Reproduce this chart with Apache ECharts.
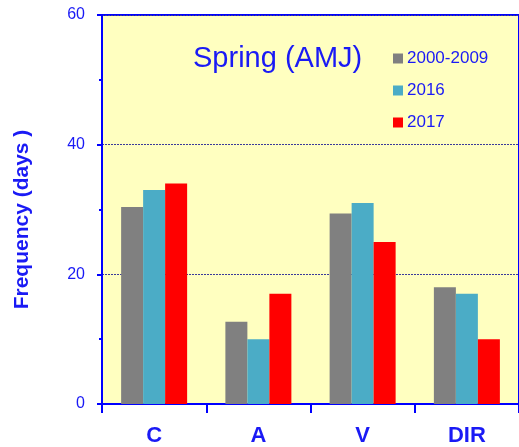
<!DOCTYPE html>
<html>
<head>
<meta charset="utf-8">
<script src="https://cdn.jsdelivr.net/npm/echarts@6/dist/echarts.min.js"></script>
<style>
  html, body { margin: 0; padding: 0; background: #ffffff; }
  #chart { width: 519px; height: 447px; }
</style>
</head>
<body>
<div id="chart"></div>
<script>
// Spring (April–June) frequency of each weather type, in days
const categories = ['C', 'A', 'V', 'DIR'];
const seriesNames = ['2000-2009', '2016', '2017'];
const decadeMean = [30.4, 12.7, 29.4, 18];
const year2016 = [33, 10, 31, 17];
const year2017 = [34, 17, 25, 10];
const yTicks = [0, 20, 40, 60];

const BLUE = '#0000ff';
const TEXT_BLUE = '#1a1af5';
const FONT = 'Liberation Sans, Arial, sans-serif';
const colors = ['#808080', '#4bacc6', '#ff0000'];
const values = [decadeMean, year2016, year2017];

const chart = echarts.init(document.getElementById('chart'), null, { renderer: 'canvas' });

chart.setOption({
  animation: false,
  backgroundColor: '#ffffff',
  title: {
    text: 'Spring (AMJ)',
    left: 193,
    top: 44,
    padding: 0,
    textStyle: {
      color: TEXT_BLUE,
      fontFamily: FONT,
      fontSize: 29,
      fontWeight: 'normal'
    }
  },
  legend: {
    orient: 'vertical',
    left: 393,
    top: 50,
    padding: 0,
    itemWidth: 10,
    itemHeight: 10,
    itemGap: 15,
    icon: 'rect',
    data: seriesNames,
    textStyle: {
      color: TEXT_BLUE,
      fontFamily: FONT,
      fontSize: 17,
      padding: [0, 0, 0, -1]
    }
  },
  grid: {
    left: 102,
    top: 15,
    bottom: 42,
    width: 424,
    show: true,
    backgroundColor: '#ffffc0',
    borderColor: BLUE,
    borderWidth: 2
  },
  xAxis: {
    type: 'category',
    data: categories,
    axisLine: { lineStyle: { color: BLUE, width: 2 } },
    axisTick: { show: true, length: 9, lineStyle: { color: BLUE, width: 2 } },
    axisLabel: {
      color: TEXT_BLUE,
      fontFamily: FONT,
      fontSize: 22,
      fontWeight: 'bold',
      margin: 21
    }
  },
  yAxis: {
    type: 'value',
    min: yTicks[0],
    max: yTicks[yTicks.length - 1],
    interval: 20,
    name: 'Frequency (days )',
    nameLocation: 'middle',
    nameGap: 69,
    nameTextStyle: {
      color: TEXT_BLUE,
      fontFamily: FONT,
      fontSize: 21,
      fontWeight: 'bold',
      padding: [0, 20, 0, 0]
    },
    axisLine: { show: true, lineStyle: { color: BLUE, width: 2 } },
    axisTick: { show: true, length: 5, lineStyle: { color: BLUE, width: 2 } },
    minorTick: { show: true, splitNumber: 2, length: 3, lineStyle: { color: BLUE, width: 2 } },
    axisLabel: {
      color: TEXT_BLUE,
      fontFamily: FONT,
      fontSize: 16,
      margin: 17
    },
    splitLine: {
      show: true,
      lineStyle: { color: '#3a3a9a', width: 1, type: [2, 1] }
    }
  },
  series: seriesNames.map((name, i) => ({
    name: name,
    type: 'bar',
    data: values[i],
    barWidth: 22,
    barGap: '0%',
    itemStyle: { color: colors[i] }
  }))
});
</script>
</body>
</html>
